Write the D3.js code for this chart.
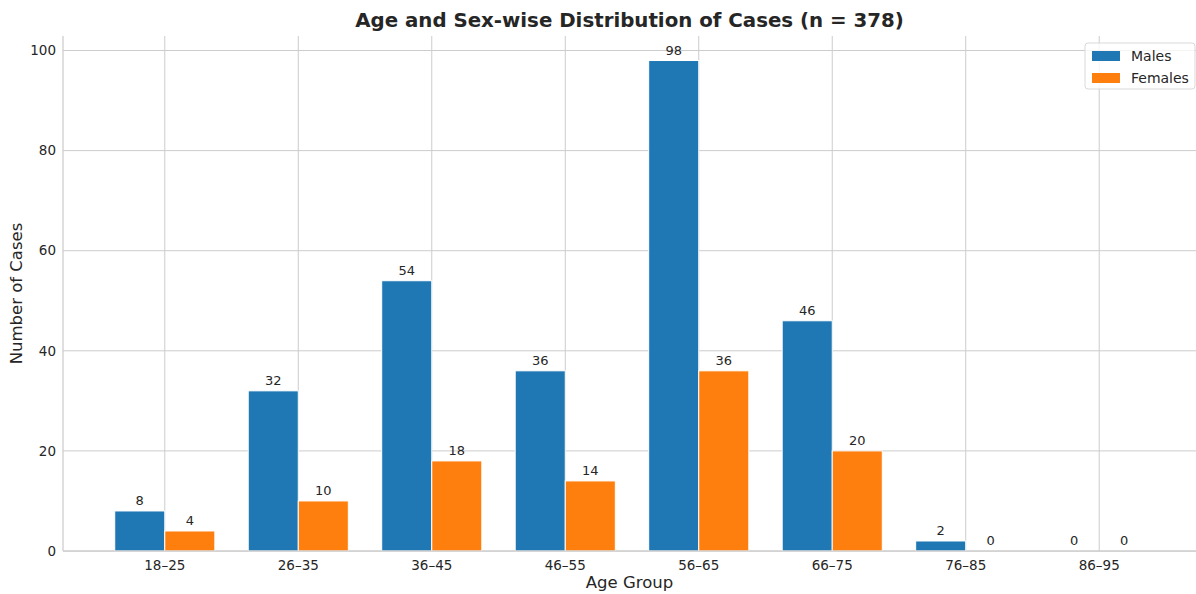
<!DOCTYPE html>
<html>
<head>
<meta charset="utf-8">
<script src="https://cdn.jsdelivr.net/npm/d3@7"></script>
<style>
  html, body { margin: 0; padding: 0; background: #fff; }
  svg { display: block; font-family: "DejaVu Sans", sans-serif; }
</style>
</head>
<body>
<svg id="chart" width="1196" height="594"></svg>
<script>
// Age groups and case counts by sex
const ageGroups = ["18–25", "26–35", "36–45", "46–55", "56–65", "66–75", "76–85", "86–95"];
const males = [8, 32, 54, 36, 98, 46, 2, 0];
const females = [4, 10, 18, 14, 36, 20, 0, 0];
const yTicks = [0, 20, 40, 60, 80, 100];
const seriesNames = ["Males", "Females"];
const seriesColors = ["#1f77b4", "#ff7f0e"];

const svg = d3.select("#chart");
const W = 1196, H = 594;
const margin = { top: 36, right: 0, bottom: 43, left: 63 };
const plotW = W - margin.left - margin.right;
const plotH = H - margin.top - margin.bottom;
const textColor = "#262626";
const gridColor = "#cccccc";

const barW = 0.375;
const n = ageGroups.length;
// continuous x scale in category-index units, with 5% padding on both sides;
// the right edge of the axes runs slightly past the figure edge
const xMin = -barW, xMax = (n - 1) + barW;
const pad = (xMax - xMin) * 0.05;
const x = d3.scaleLinear().domain([xMin - pad, xMax + pad]).range([0, plotW + 5]);
const yMaxData = d3.max(males.concat(females));
const y = d3.scaleLinear().domain([0, yMaxData * 1.05]).range([plotH, 0]);

const g = svg.append("g").attr("transform", `translate(${margin.left},${margin.top})`);

// grid lines
g.append("g").selectAll("line").data(yTicks).join("line")
  .attr("x1", 0).attr("x2", plotW)
  .attr("y1", d => y(d)).attr("y2", d => y(d))
  .attr("stroke", gridColor).attr("stroke-width", 1);
g.append("g").selectAll("line").data(ageGroups).join("line")
  .attr("x1", (d, i) => x(i)).attr("x2", (d, i) => x(i))
  .attr("y1", 0).attr("y2", plotH)
  .attr("stroke", gridColor).attr("stroke-width", 1);

// bars with value labels
const series = [males, females];
series.forEach((vals, s) => {
  const off = s === 0 ? -barW / 2 : barW / 2;
  g.append("g").selectAll("rect").data(vals).join("rect")
    .attr("x", (d, i) => x(i + off - barW / 2))
    .attr("y", d => y(d))
    .attr("width", x(barW) - x(0))
    .attr("height", d => y(0) - y(d))
    .attr("fill", seriesColors[s])
    .attr("stroke", "#fff").attr("stroke-width", 1);
  g.append("g").selectAll("text").data(vals).join("text")
    .attr("x", (d, i) => x(i + off))
    .attr("y", d => y(d) - 6)
    .attr("text-anchor", "middle")
    .attr("font-size", 13)
    .attr("fill", textColor)
    .text(d => d);
});

// spines (left and bottom)
g.append("line").attr("x1", 0).attr("x2", 0).attr("y1", 0).attr("y2", plotH)
  .attr("stroke", gridColor).attr("stroke-width", 1.25);
g.append("line").attr("x1", 0).attr("x2", plotW).attr("y1", plotH).attr("y2", plotH)
  .attr("stroke", gridColor).attr("stroke-width", 1.25);

// tick labels
g.append("g").selectAll("text").data(yTicks).join("text")
  .attr("x", -7).attr("y", d => y(d)).attr("dy", "0.35em")
  .attr("text-anchor", "end").attr("font-size", 13.5).attr("fill", textColor)
  .text(d => d);
g.append("g").selectAll("text").data(ageGroups).join("text")
  .attr("x", (d, i) => x(i)).attr("y", plotH + 19)
  .attr("text-anchor", "middle").attr("font-size", 13.5).attr("fill", textColor)
  .text(d => d);

// axis titles
svg.append("text")
  .attr("x", margin.left + plotW / 2).attr("y", 588)
  .attr("text-anchor", "middle").attr("font-size", 16.5).attr("fill", textColor)
  .text("Age Group");
svg.append("text")
  .attr("transform", `translate(22,${margin.top + plotH / 2}) rotate(-90)`)
  .attr("text-anchor", "middle").attr("font-size", 16.5).attr("fill", textColor)
  .text("Number of Cases");

// title
svg.append("text")
  .attr("x", margin.left + plotW / 2).attr("y", 27)
  .attr("text-anchor", "middle").attr("font-size", 19.8).attr("font-weight", "bold")
  .attr("fill", textColor)
  .text("Age and Sex-wise Distribution of Cases (n = 378)");

// legend
const lg = svg.append("g").attr("transform", "translate(1085,43)");
lg.append("rect").attr("x", 0).attr("y", 0).attr("width", 110).attr("height", 46)
  .attr("rx", 3).attr("fill", "#fff").attr("fill-opacity", 0.8)
  .attr("stroke", "#d9d9d9").attr("stroke-width", 1);
seriesNames.forEach((name, i) => {
  lg.append("rect").attr("x", 7).attr("y", 8 + i * 22).attr("width", 28).attr("height", 10)
    .attr("fill", seriesColors[i]);
  lg.append("text").attr("x", 46).attr("y", 13 + i * 22).attr("dy", "0.35em")
    .attr("font-size", 14).attr("fill", textColor).text(name);
});
</script>
</body>
</html>
